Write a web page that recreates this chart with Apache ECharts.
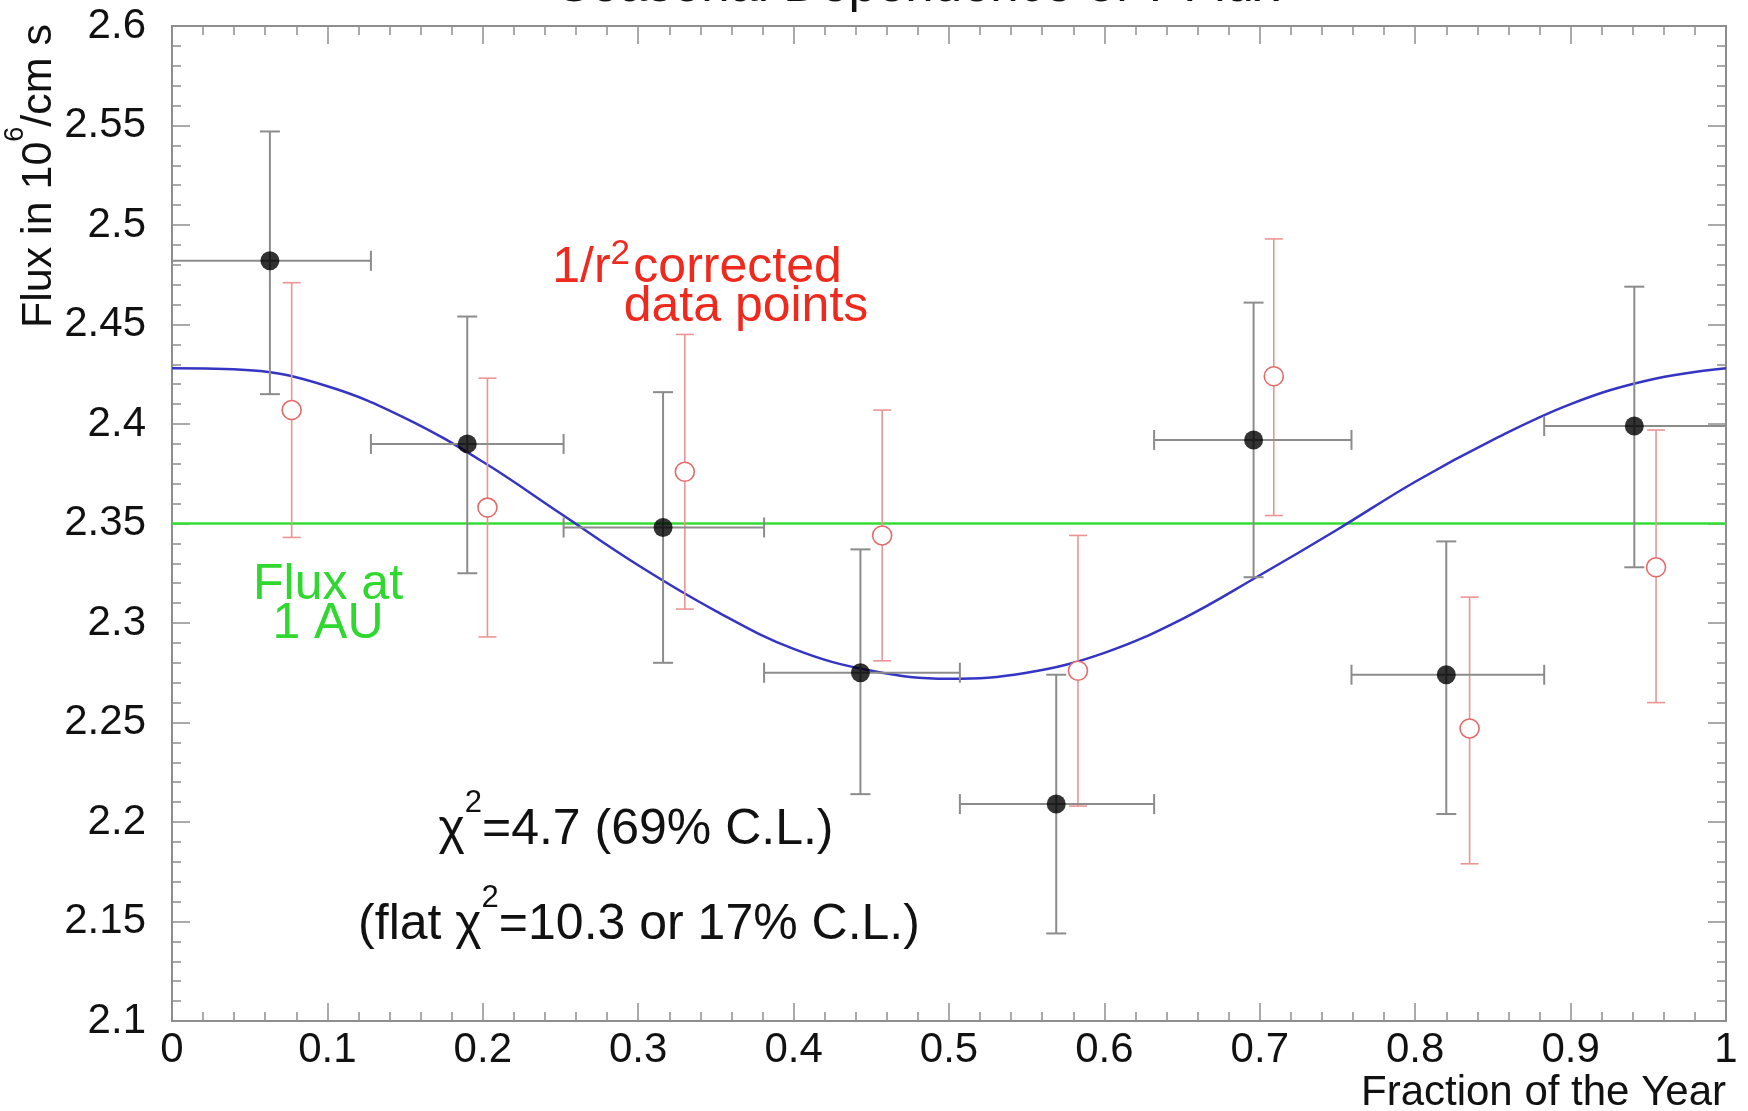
<!DOCTYPE html>
<html><head><meta charset="utf-8">
<script src="https://cdn.jsdelivr.net/npm/echarts@6/dist/echarts.min.js"></script>
<style>html,body{margin:0;padding:0;background:#fff}#c{width:1748px;height:1111px}</style>
</head><body><div id="c"></div>
<script>
const FONT = '"Liberation Sans", Arial, sans-serif';

// Measured flux per time bin (black points, with x bin extents)
const binCenter = [0.063, 0.190, 0.316, 0.443, 0.569, 0.696, 0.820, 0.941];
const binLow    = [0.000, 0.128, 0.252, 0.381, 0.507, 0.632, 0.759, 0.883];
const binHigh   = [0.128, 0.252, 0.381, 0.507, 0.632, 0.759, 0.883, 1.000];
const fluxMeasured     = [2.482, 2.390, 2.348, 2.275, 2.209, 2.392, 2.274, 2.399];
const fluxMeasuredLow  = [2.415, 2.325, 2.280, 2.214, 2.144, 2.323, 2.204, 2.328];
const fluxMeasuredHigh = [2.547, 2.454, 2.416, 2.337, 2.274, 2.461, 2.341, 2.469];

// 1/r^2 corrected data points (red open circles)
const corrX             = [0.077, 0.203, 0.330, 0.457, 0.583, 0.709, 0.835, 0.955];
const fluxCorrected     = [2.407, 2.358, 2.376, 2.344, 2.276, 2.424, 2.247, 2.328];
const fluxCorrectedLow  = [2.343, 2.293, 2.307, 2.281, 2.208, 2.354, 2.179, 2.260];
const fluxCorrectedHigh = [2.471, 2.423, 2.445, 2.407, 2.344, 2.493, 2.313, 2.397];

// Expected (fit) curve
const fitX = [0, 0.05, 0.10, 0.15, 0.20, 0.25, 0.30, 0.35, 0.40, 0.45, 0.50, 0.55, 0.60, 0.65, 0.70, 0.75, 0.80, 0.85, 0.90, 0.95, 1.00];
const fitY = [2.428, 2.427, 2.419, 2.403, 2.381, 2.355, 2.329, 2.306, 2.287, 2.276, 2.272, 2.275, 2.285, 2.302, 2.324, 2.347, 2.371, 2.392, 2.410, 2.422, 2.428];

// Flux at 1 AU
const flux1AU = 2.35;
const flatX = [0, 1];

// Axes
const xMin = 0, xMax = 1, xStep = 0.1;
const yMin = 2.1, yMax = 2.6, yStep = 0.05;

const blackData = binCenter.map((x, i) => [x, fluxMeasured[i], fluxMeasuredLow[i], fluxMeasuredHigh[i], binLow[i], binHigh[i]]);
const redData = corrX.map((x, i) => [x, fluxCorrected[i], fluxCorrectedLow[i], fluxCorrectedHigh[i]]);
const fitData = fitX.map((x, i) => [x, fitY[i]]);
const flatData = flatX.map(x => [x, flux1AU]);

function seg(a, b, st) {
  return { type: 'line', shape: { x1: a[0], y1: a[1], x2: b[0], y2: b[1] }, style: st };
}
function renderBlack(params, api) {
  const x = api.value(0), y = api.value(1), lo = api.value(2), hi = api.value(3), xl = api.value(4), xh = api.value(5);
  const pLo = api.coord([x, lo]), pHi = api.coord([x, hi]);
  const pL = api.coord([xl, y]), pR = api.coord([xh, y]);
  const c = 10;
  const st = { stroke: '#8c8c8c', lineWidth: 2 };
  return { type: 'group', children: [
    seg(pLo, pHi, st),
    seg([pLo[0] - c, pLo[1]], [pLo[0] + c, pLo[1]], st),
    seg([pHi[0] - c, pHi[1]], [pHi[0] + c, pHi[1]], st),
    seg(pL, pR, st),
    seg([pL[0], pL[1] - c], [pL[0], pL[1] + c], st),
    seg([pR[0], pR[1] - c], [pR[0], pR[1] + c], st)
  ]};
}
function renderRed(params, api) {
  const x = api.value(0), lo = api.value(2), hi = api.value(3);
  const pLo = api.coord([x, lo]), pHi = api.coord([x, hi]);
  const c = 9;
  const st = { stroke: '#ec9494', lineWidth: 1.6 };
  return { type: 'group', children: [
    seg(pLo, pHi, st),
    seg([pLo[0] - c, pLo[1]], [pLo[0] + c, pLo[1]], st),
    seg([pHi[0] - c, pHi[1]], [pHi[0] + c, pHi[1]], st)
  ]};
}

const axisCol = '#8e8e8e';
function xAx(pos, labels) {
  return {
    type: 'value', position: pos, min: xMin, max: xMax, interval: xStep,
    axisLine: { show: true, onZero: false, lineStyle: { color: axisCol, width: 2 } },
    axisTick: { show: true, inside: true, length: 18, lineStyle: { color: axisCol, width: 1.5 } },
    minorTick: { show: true, splitNumber: 5, length: 9, lineStyle: { color: axisCol, width: 1.5 } },
    axisLabel: { show: labels, fontSize: 42, fontFamily: FONT, color: '#111', margin: 8, showMinLabel: true, showMaxLabel: true },
    splitLine: { show: false }, minorSplitLine: { show: false }
  };
}
function yAx(pos, labels) {
  return {
    type: 'value', position: pos, min: yMin, max: yMax, interval: yStep,
    axisLine: { show: true, onZero: false, lineStyle: { color: axisCol, width: 2 } },
    axisTick: { show: true, inside: true, length: 18, lineStyle: { color: axisCol, width: 1.5 } },
    minorTick: { show: true, splitNumber: 5, length: 9, lineStyle: { color: axisCol, width: 1.5 } },
    axisLabel: { show: labels, fontSize: 42, fontFamily: FONT, color: '#111', margin: 26, showMinLabel: true, showMaxLabel: true },
    splitLine: { show: false }, minorSplitLine: { show: false }
  };
}

function plain(x, y, text, fill, size, align) {
  return {
    type: 'text', x: x, y: y, z: 20,
    style: { text: text, fill: fill, align: align || 'center', verticalAlign: 'middle', font: size + 'px ' + FONT }
  };
}
function richTxt(x, y, text, rich, fill, extra) {
  return Object.assign({
    type: 'text', x: x, y: y, z: 20,
    style: { text: text, rich: rich, fill: fill, align: 'center', verticalAlign: 'middle', font: '50px ' + FONT }
  }, extra || {});
}
function richSet(main, sup, mainLH, supLH, color) {
  return {
    m: { fontSize: main, fontFamily: FONT, fill: color, lineHeight: mainLH },
    s: { fontSize: sup, fontFamily: FONT, fill: color, lineHeight: supLH, verticalAlign: 'top' },
    g: { fontSize: 12, fontFamily: FONT, fill: color, lineHeight: supLH }
  };
}

const chart = echarts.init(document.getElementById('c'), null, { renderer: 'canvas' });
chart.setOption({
  animation: false,
  backgroundColor: '#fff',
  grid: { left: 172, right: 22, top: 26, bottom: 90, containLabel: false },
  xAxis: [xAx('bottom', true), xAx('top', false)],
  yAxis: [yAx('left', true), yAx('right', false)],
  series: [
    { type: 'line', data: flatData, symbol: 'none', z: 1, lineStyle: { color: '#35dc35', width: 2.5 }, silent: true },
    { type: 'line', data: fitData, symbol: 'none', smooth: 0.4, z: 2, lineStyle: { color: '#3535c4', width: 2.5 }, silent: true },
    { type: 'custom', data: redData, renderItem: renderRed, encode: { x: 0, y: [1, 2, 3] }, z: 3, silent: true },
    { type: 'custom', data: blackData, renderItem: renderBlack, encode: { x: [0, 4, 5], y: [1, 2, 3] }, z: 4, silent: true },
    { type: 'scatter', data: redData.map(d => [d[0], d[1]]), symbol: 'circle', symbolSize: 19, z: 5,
      itemStyle: { color: '#ffffff', borderColor: '#e46a6a', borderWidth: 1.6, opacity: 1 }, silent: true },
    { type: 'scatter', data: blackData.map(d => [d[0], d[1]]), symbol: 'circle', symbolSize: 19, z: 6,
      itemStyle: { color: '#000000' }, silent: true }
  ],
  graphic: [
    plain(918, -13, 'Seasonal Dependence of ν Flux', '#111', 51),
    richTxt(39, 176, '{m|Flux in 10}{s|6}{m|/cm s}', richSet(43, 27, 74, 27, '#111'), '#111', { rotation: Math.PI / 2 }),
    plain(1726, 1093, 'Fraction of the Year', '#111', 42, 'right'),
    richTxt(697, 268, '{m|1/r}{s|2}{g| }{m|corrected}', richSet(50, 35, 62, 35, '#ee2a1e'), '#ee2a1e'),
    plain(746, 307, 'data points', '#ee2a1e', 50),
    plain(328, 585, 'Flux at', '#2fd82f', 50),
    plain(328, 624, '1 AU', '#2fd82f', 50),
    richTxt(636, 830, '{m|χ}{s|2}{m|=4.7 (69% C.L.)}', richSet(50, 31, 84, 31, '#111'), '#111'),
    richTxt(639, 925, '{m|(flat χ}{s|2}{m|=10.3 or 17% C.L.)}', richSet(50, 31, 84, 31, '#111'), '#111')
  ]
});
</script>
</body></html>
